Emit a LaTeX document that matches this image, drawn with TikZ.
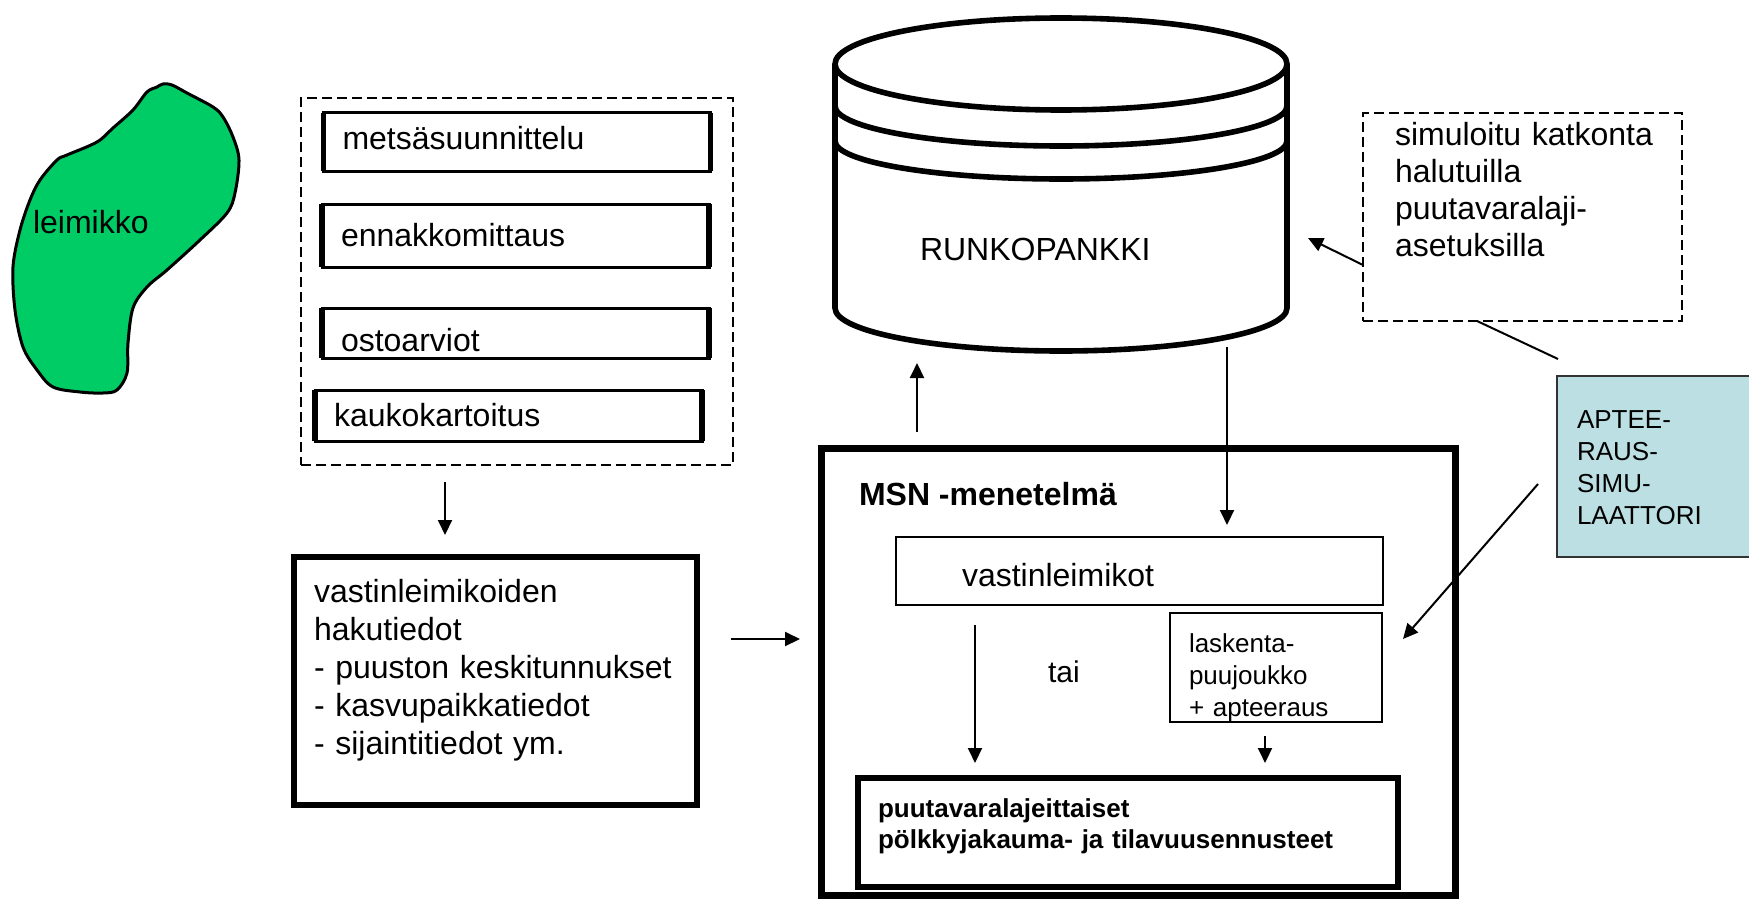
\documentclass[tikz,border=0pt]{standalone}
\usepackage{fontspec}
\setmainfont{Liberation Sans}
\usetikzlibrary{arrows.meta,calc}
\definecolor{leafgreen}{RGB}{0,204,102}
\definecolor{paleblue}{RGB}{187,223,226}
\begin{document}
\begin{tikzpicture}[x=0.5pt,y=-0.5pt,
	every node/.style={outer sep=0pt,font=\fontsize{16pt}{18.5pt}\selectfont},
	arr/.style={-{Triangle[length=7.5pt,width=7pt]},line width=1pt},
	srcbox/.style={draw,line width=1.5pt,inner xsep=9.5pt,inner ysep=0pt,text width=174.5pt,align=left,minimum height=#1},
	dashbox/.style={draw,line width=1.2pt,dash pattern=on 5pt off 2.5pt},
	txt/.style={anchor=base west,align=left,inner sep=0pt,text width=#1}]
	\useasboundingbox (0,0) rectangle (1749,899);
	% leimikko
	\draw[fill=leafgreen,line width=1.5pt] plot[smooth cycle,tension=0.55] coordinates {(147,92) (157,87) (163,84) (172,85) (187,93) (213,107) (223,117) (233,137) (239,160) (235,193) (227,213) (200,240) (167,270) (147,287) (133,308) (128,343) (127,373) (117,390) (103,393) (80,392) (53,387) (37,370) (23,347) (15,310) (13,267) (20,230) (30,200) (40,180) (57,160) (67,155) (97,142) (113,128) (133,110)};
	\node[anchor=base west,inner sep=0pt] (leimikko) at (33,233) {leimikko};
	% sources
	\node[dashbox,minimum width=216pt,minimum height=183.5pt] (src) at (517,281.5) {};
	\node[srcbox=29pt,text height=8pt] (met) at (517,142) {metsäsuunnittelu};
	\node[srcbox=31.5pt] (enn) at (515.5,235.5) {ennakkomittaus};
	\node[srcbox=25pt,text height=19pt] (ost) at (515.5,333) {ostoarviot};
	\node[srcbox=25.5pt] (kau) at (508.5,415.5) {kaukokartoitus};
	\foreach \b in {met,enn,ost,kau}
		\draw[line width=2.8pt] (\b.north west) -- (\b.south west) (\b.north east) -- (\b.south east);
	\node[draw,line width=3pt,minimum width=201.5pt,minimum height=124pt] (haku) at (495.5,681) {};
	\node[txt=190pt,font=\fontsize{16pt}{19pt}\selectfont] (hakutxt) at ($(haku.north west)+(20,45)$)
		{vastinleimikoiden\\hakutiedot\\- puuston keskitunnukset\\- kasvupaikkatiedot\\- sijaintitiedot ym.};
	% runkopankki
	\begin{scope}[line width=2.8pt]
		\draw[fill=white] (835,64) -- (835,308) arc[start angle=180,end angle=0,x radius=226,y radius=43] -- (1287,64);
		\draw (835,106) arc[start angle=180,end angle=0,x radius=226,y radius=40];
		\draw (835,141) arc[start angle=180,end angle=0,x radius=226,y radius=38];
		\draw (1061,64) ellipse [x radius=226,y radius=46];
	\end{scope}
	\node[anchor=base west,inner sep=0pt] (bank) at (920,260) {RUNKOPANKKI};
	\coordinate (bankout) at (1227,347);
	% apteeraus
	\node[dashbox,minimum width=159.5pt,minimum height=104pt] (sim) at (1522.5,217) {};
	\node[txt=150pt] (simtxt) at ($(sim.north west)+(32,32)$) {simuloitu katkonta\\halutuilla\\puutavaralaji-\\asetuksilla};
	\node[draw=black!80,fill=paleblue,line width=0.8pt,minimum width=106.5pt,minimum height=90.5pt] (apt) at (1663.5,466.5) {};
	\node[txt=90pt,font=\fontsize{13pt}{16pt}\selectfont] (apttxt) at ($(apt.north west)+(20,52)$) {APTEE-\\RAUS-\\SIMU-\\LAATTORI};
	% MSN
	\node[draw,line width=3.5pt,minimum width=317pt,minimum height=223.5pt] (msn) at (1138,671.5) {};
	\node[anchor=base west,inner sep=0pt,font=\fontsize{16pt}{18.5pt}\selectfont\bfseries] (msntxt) at ($(msn.north west)+(38,57)$) {MSN -menetelmä};
	\node[draw,line width=1.2pt,inner xsep=33pt,inner ysep=0pt,text width=177.5pt,text height=16pt,minimum height=34pt] (vastin) at (1139.5,571) {vastinleimikot};
	\node[draw,line width=1.4pt,minimum width=106pt,minimum height=54.5pt] (laska) at (1276,667.5) {};
	\node[txt=90pt,font=\fontsize{13pt}{16pt}\selectfont] (laskatxt) at ($(laska.north west)+(19,39)$) {laskenta-\\puujoukko\\+ apteeraus};
	\node[anchor=base west,inner sep=0pt,font=\fontsize{15pt}{18pt}\selectfont] (tai) at (1048,682) {tai};
	\node[draw,line width=2.8pt,minimum width=270pt,minimum height=54.5pt] (result) at (1128,832.5) {};
	\node[txt=260pt,font=\fontsize{13pt}{15.5pt}\selectfont\bfseries] (resulttxt) at ($(result.north west)+(20,39)$)
		{puutavaralajeittaiset\\pölkkyjakauma- ja tilavuusennusteet};
	% connectors
	\draw[arr] ($(src.south)+(-72,17)$) -- ($(haku.north)+(-50.5,-22)$);
	\draw[arr] ($(haku.east)+(34,-42)$) -- ($(msn.west)+(-21,-32.5)$);
	\draw[arr] ($(msn.north west)+(96,-16)$) -- ++(0,-69);
	\draw[arr] (bankout) -- ($(vastin.north)+(87.5,-12)$);
	\draw[arr] ($(sim.west)+(0,48)$) -- ++(-55,-27);
	\draw[line width=1pt] ($(sim.south)+(-45.5,0)$) -- ($(apt.north west)+(1,-17)$);
	\draw[arr] ($(apt.west)+(-19,17.5)$) -- ($(laska.east)+(21,-28.5)$);
	\draw[arr] ($(vastin.south west)+(79,20)$) -- ($(result.north west)+(117,-15)$);
	\draw[arr] ($(laska.south)+(-11,14)$) -- ($(result.north)+(137,-15)$);
\end{tikzpicture}
\end{document}
